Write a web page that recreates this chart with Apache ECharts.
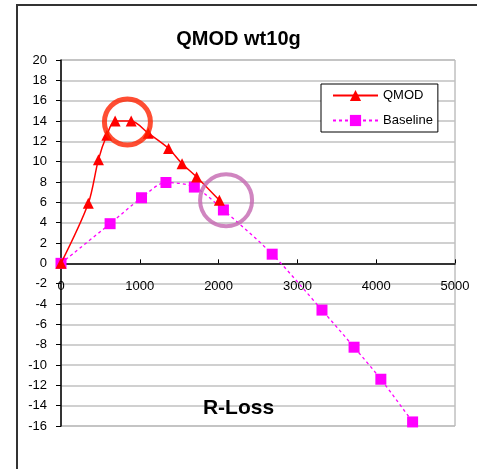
<!DOCTYPE html>
<html lang="en" style="height: 100%">
<head>
<meta charset="utf-8">
<title>QMOD wt10g</title>
</head>
<body style="height: 100%; margin: 0; background: #fff">
<div id="container" style="height: 100%"></div>
<script type="text/javascript" src="https://cdn.jsdelivr.net/npm/echarts@6/dist/echarts.min.js"></script>
<script type="text/javascript">

var dom = document.getElementById('container');
var myChart = echarts.init(dom);

// Data: [R-Loss, value]
var qmodX = [0, 347, 475, 581, 687, 891, 1107, 1365, 1536, 1721, 2010];
var qmodY = [0, 5.9, 10.2, 12.6, 14.0, 14.0, 12.8, 11.3, 9.8, 8.5, 6.2];
var baseX = [0, 623, 1022, 1332, 1692, 2061, 2680, 3312, 3719, 4059, 4462];
var baseY = [0, 3.9, 6.45, 7.95, 7.5, 5.25, 0.9, -4.6, -8.25, -11.4, -15.6];
// annotation rings drawn on the chart
var ringX = [843, 2095];
var ringY = [13.9, 6.2];

var yMin = -16, yMax = 20;

function pairs(xs, ys) {
    return xs.map(function (x, i) { return [x, ys[i]]; });
}

var font = 'Arial, "Liberation Sans", sans-serif';
var gridTop = 60, gridBottom = 43;
var plotH = 469 - gridTop - gridBottom;
// x axis sits on the zero line, labels follow it
var zeroOffset = -plotH * (0 - yMin) / (yMax - yMin);

var option = {
    animation: false,
    backgroundColor: '#fff',
    title: [
        {
            text: 'QMOD wt10g',
            left: 'center',
            top: 29,
            padding: 0,
            textStyle: { fontFamily: font, fontSize: 20, fontWeight: 'bold', color: '#000' }
        },
        {
            text: 'R-Loss',
            left: 'center',
            top: 398,
            padding: 0,
            textStyle: { fontFamily: font, fontSize: 21, fontWeight: 'bold', color: '#000' }
        }
    ],
    graphic: [
        {
            type: 'rect',
            shape: { x: 17, y: 5, width: 480, height: 480 },
            style: { fill: 'none', stroke: '#333', lineWidth: 2 },
            silent: true,
            z: -1
        }
    ],
    legend: {
        data: ['QMOD', 'Baseline'],
        orient: 'vertical',
        left: 321,
        top: 84,
        padding: [5, 5, 5, 11],
        itemWidth: 45,
        itemHeight: 14,
        itemGap: 12,
        borderColor: '#000',
        borderWidth: 1,
        backgroundColor: '#fff',
        textStyle: { fontFamily: font, fontSize: 13, color: '#000' }
    },
    grid: {
        left: 61,
        right: 22,
        top: gridTop,
        bottom: gridBottom,
        show: true,
        borderColor: '#a0a0a0',
        borderWidth: 1,
        backgroundColor: 'transparent'
    },
    xAxis: {
        type: 'value',
        min: 0,
        max: 5000,
        interval: 1000,
        offset: zeroOffset,
        axisLine: { onZero: false, lineStyle: { color: '#000', width: 1.5 } },
        axisTick: { inside: true, length: 4, lineStyle: { color: '#000' } },
        axisLabel: {
            margin: 17,
            fontFamily: font,
            fontSize: 13,
            color: '#000',
            formatter: function (v) { return String(v); }
        },
        splitLine: { show: false }
    },
    yAxis: {
        type: 'value',
        min: yMin,
        max: yMax,
        interval: 2,
        axisLine: { show: true, onZero: false, lineStyle: { color: '#000', width: 1.5 } },
        axisTick: { show: true, length: 5, lineStyle: { color: '#000' } },
        axisLabel: { margin: 14, fontFamily: font, fontSize: 13, color: '#000' },
        splitLine: { show: true, lineStyle: { color: '#c0c0c0', width: 1.5 } }
    },
    series: [
        {
            name: 'QMOD',
            type: 'line',
            data: pairs(qmodX, qmodY),
            smooth: 0.3,
            symbol: 'triangle',
            symbolSize: 11,
            itemStyle: { color: '#ff0000' },
            lineStyle: { color: '#ff0000', width: 1.5 },
            z: 3
        },
        {
            name: 'Baseline',
            type: 'line',
            data: pairs(baseX, baseY),
            smooth: 0.3,
            symbol: 'rect',
            symbolSize: 11,
            itemStyle: { color: '#ff00ff' },
            lineStyle: { color: '#ff00ff', width: 1.3, type: [3, 3] },
            z: 2
        },
        {
            name: 'rings',
            type: 'scatter',
            silent: true,
            data: [
                { value: [ringX[0], ringY[0]], symbolSize: 46, itemStyle: { borderColor: '#ff2200', borderWidth: 5 } },
                { value: [ringX[1], ringY[1]], symbolSize: 52, itemStyle: { borderColor: '#c466b0', borderWidth: 4 } }
            ],
            symbol: 'circle',
            itemStyle: { color: 'rgba(0,0,0,0)' },
            z: 4
        }
    ]
};

myChart.setOption(option);
window.addEventListener('resize', myChart.resize);
</script>
</body>
</html>
